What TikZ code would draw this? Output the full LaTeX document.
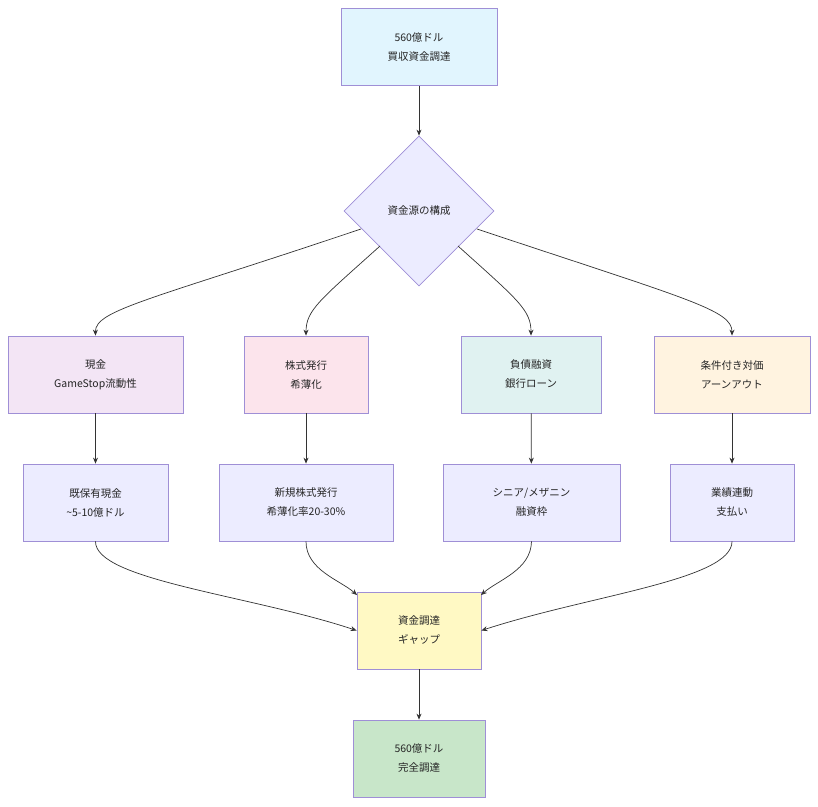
\documentclass[tikz,border=0pt]{standalone}
\usepackage{fontspec}
\setmainfont{Noto Sans CJK JP}
\usetikzlibrary{shapes.geometric,arrows.meta}
\definecolor{st}{HTML}{9F8FD6}
\begin{document}
\begin{tikzpicture}[x=1pt,y=-1pt,
  box/.style={draw=st,line width=0.8pt,minimum height=77pt,align=center,font=\fontsize{10.5}{19}\selectfont,text=black!85},
  ar/.style={draw=black!80,line width=0.7pt,-{Stealth[length=6pt,width=5pt]}}]
\useasboundingbox (0,0) rectangle (818,806);
\node[box,fill={rgb,255:red,225;green,245;blue,254},minimum width=156pt] (top) at (419,47) {560億ドル\\買収資金調達};
\node[box,diamond,fill={rgb,255:red,236;green,236;blue,255},minimum width=150pt,minimum height=150pt,inner sep=0pt] (d) at (419,211) {資金源の構成};
\node[box,fill={rgb,255:red,243;green,229;blue,245},minimum width=175pt] (a1) at (95.5,374.5) {現金\\GameStop流動性};
\node[box,fill={rgb,255:red,252;green,228;blue,236},minimum width=124pt] (b1) at (306,374.5) {株式発行\\希薄化};
\node[box,fill={rgb,255:red,224;green,242;blue,241},minimum width=140pt] (c1) at (531,374.5) {負債融資\\銀行ローン};
\node[box,fill={rgb,255:red,255;green,243;blue,224},minimum width=156pt] (e1) at (732,374.5) {条件付き対価\\アーンアウト};
\node[box,fill={rgb,255:red,236;green,236;blue,255},minimum width=145pt] (a2) at (95.5,502.5) {既保有現金\\\textasciitilde5-10億ドル};
\node[box,fill={rgb,255:red,236;green,236;blue,255},minimum width=174pt] (b2) at (306,502.5) {新規株式発行\\希薄化率20-30\%};
\node[box,fill={rgb,255:red,236;green,236;blue,255},minimum width=177pt] (c2) at (531.5,502.5) {シニア/メザニン\\融資枠};
\node[box,fill={rgb,255:red,236;green,236;blue,255},minimum width=124pt] (e2) at (732,502.5) {業績連動\\支払い};
\node[box,fill={rgb,255:red,255;green,249;blue,196},minimum width=124pt] (g) at (419,630.5) {資金調達\\ギャップ};
\node[box,fill={rgb,255:red,200;green,230;blue,201},minimum width=132pt] (f) at (419,758.5) {560億ドル\\完全調達};
\coordinate (dl) at (361,229); \coordinate (dml) at (380,246);
\coordinate (dmr) at (458,246); \coordinate (dr) at (477,229);
\draw[ar] (top) -- (d);
\draw[ar] (dl) .. controls (150,300) and (95,310) .. (a1.north);
\draw[ar] (dml) .. controls (320,300) and (306,310) .. (b1.north);
\draw[ar] (dmr) .. controls (518,300) and (531,310) .. (c1.north);
\draw[ar] (dr) .. controls (690,300) and (732,310) .. (e1.north);
\draw[ar] (a1) -- (a2); \draw[ar] (b1) -- (b2); \draw[ar] (c1) -- (c2); \draw[ar] (e1) -- (e2);
\draw[ar] (a2.south) .. controls (95,580) and (250,595) .. (g.west);
\draw[ar] (b2.south) .. controls (306,570) and (340,580) .. (357,595);
\draw[ar] (c2.south) .. controls (531,570) and (498,580) .. (481,595);
\draw[ar] (e2.south) .. controls (732,580) and (590,595) .. (g.east);
\draw[ar] (g) -- (f);
\end{tikzpicture}
\end{document}
